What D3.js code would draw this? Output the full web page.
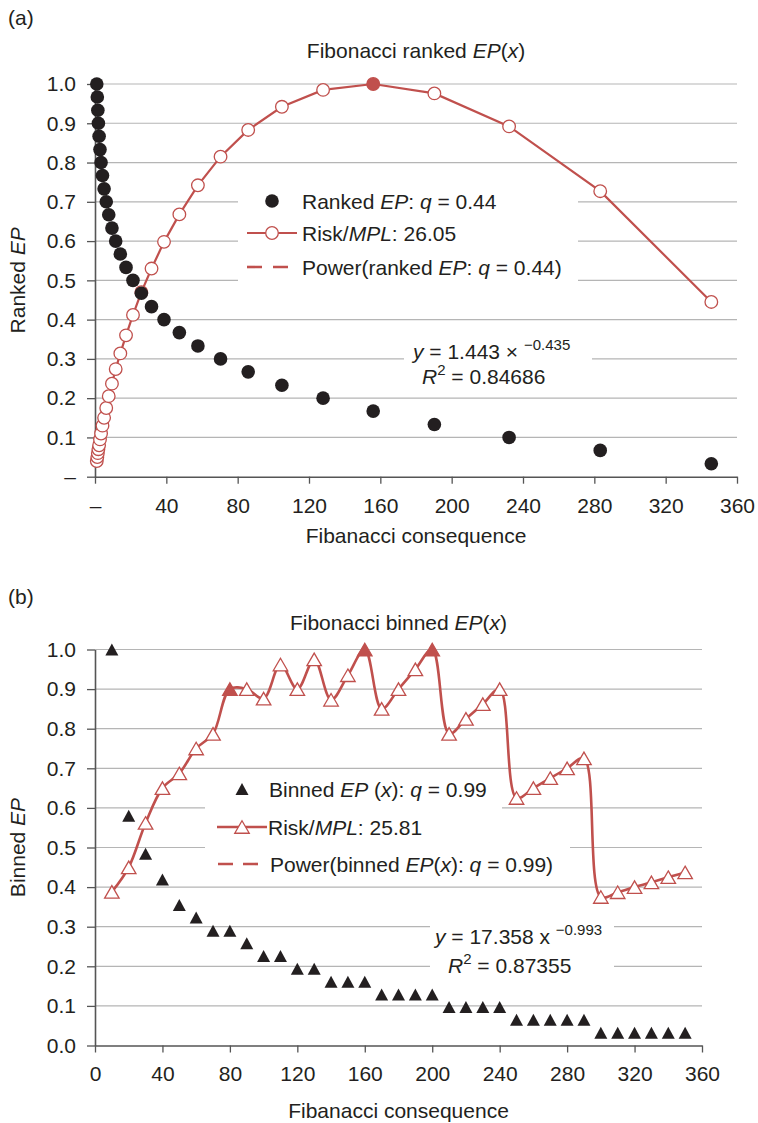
<!DOCTYPE html>
<html>
<head>
<meta charset="utf-8">
<script src="https://cdn.jsdelivr.net/npm/d3@7"></script>
<style>
body { margin: 0; background: #fff; }
svg { font-family: "Liberation Sans", Arial, Helvetica, sans-serif; }
</style>
</head>
<body>
<svg id="chart" width="758" height="1123"></svg>
<script>
// ---- panel (a): ranked EP ----
var rankedX = [1.0, 1.3, 1.6, 1.9, 2.3, 2.8, 3.4, 4.2, 5.1, 6.3, 7.7, 9.5, 11.6, 14.2, 17.4,
               21.3, 26.0, 31.7, 38.7, 47.3, 57.7, 70.4, 85.9, 104.8, 127.9, 156.0, 190.3, 232.2, 283.3, 345.6];
var rankedEP = [1.0, 0.967, 0.933, 0.9, 0.867, 0.833, 0.8, 0.767, 0.733, 0.7, 0.667, 0.633, 0.6, 0.567, 0.533,
                0.5, 0.467, 0.433, 0.4, 0.367, 0.333, 0.3, 0.267, 0.233, 0.2, 0.167, 0.133, 0.1, 0.067, 0.033];
var rankedRisk = [0.04, 0.05, 0.06, 0.07, 0.08, 0.095, 0.11, 0.13, 0.15, 0.175, 0.205, 0.237, 0.274, 0.314, 0.36,
                  0.412, 0.47, 0.53, 0.598, 0.668, 0.742, 0.815, 0.883, 0.942, 0.985, 1.0, 0.976, 0.892, 0.727, 0.445];
var rankedFilled = [156.0];

// ---- panel (b): binned EP ----
var binnedX = [10, 20, 30, 40, 50, 60, 70, 80, 90, 100, 110, 120, 130, 140, 150, 160, 170, 180,
               190, 200, 210, 220, 230, 240, 250, 260, 270, 280, 290, 300, 310, 320, 330, 340, 350];
var binnedEP = [1.0, 0.58, 0.484, 0.419, 0.355, 0.323, 0.29, 0.29, 0.258, 0.226, 0.226, 0.194, 0.194, 0.161, 0.161,
                0.161, 0.129, 0.129, 0.129, 0.129, 0.097, 0.097, 0.097, 0.097, 0.065, 0.065, 0.065, 0.065, 0.065,
                0.032, 0.032, 0.032, 0.032, 0.032, 0.032];
var binnedRisk = [0.388, 0.45, 0.562, 0.65, 0.687, 0.75, 0.787, 0.9, 0.9, 0.876, 0.962, 0.9, 0.975, 0.873, 0.935,
                  1.0, 0.85, 0.9, 0.95, 1.0, 0.787, 0.825, 0.862, 0.9, 0.625, 0.65, 0.675, 0.7, 0.725,
                  0.375, 0.387, 0.4, 0.412, 0.425, 0.437];
var binnedFilled = [80, 160, 200];

var xTicks = [0, 40, 80, 120, 160, 200, 240, 280, 320, 360];
var yTicks = [0, 0.1, 0.2, 0.3, 0.4, 0.5, 0.6, 0.7, 0.8, 0.9, 1.0];

var svg = d3.select("#chart");
var red = "#c0504d";
var ink = "#231f20";
var axisCol = "#555";
var gridCol = "#b5b5b5";

// text with italic / superscript pieces
function addText(parent, x, y, parts, anchor) {
  var t = parent.append("text").attr("x", x).attr("y", y)
    .attr("font-size", 21).attr("fill", ink);
  if (anchor) t.attr("text-anchor", anchor);
  var lift = 0;
  parts.forEach(function(p) {
    var s = t.append("tspan").text(p[0]);
    if (p[1] === "i") s.attr("font-style", "italic");
    if (p[1] === "sup") {
      s.attr("font-size", 15).attr("dy", -9);
      lift = 9;
    } else if (lift) {
      s.attr("dy", lift);
      lift = 0;
    }
  });
  return t;
}

function triangle(w, h) {
  return "M0," + (-h / 2) + "L" + (w / 2) + "," + (h / 2) + "L" + (-w / 2) + "," + (h / 2) + "Z";
}

function frame(o) {
  var g = svg.append("g");
  var x = d3.scaleLinear().domain([0, 360]).range([95, o.right]);
  var y = d3.scaleLinear().domain([0, 1]).range([o.bottom, o.top]);

  g.selectAll("line.grid").data(yTicks.slice(1)).enter().append("line")
    .attr("class", "grid")
    .attr("x1", x(0)).attr("x2", x(360))
    .attr("y1", function(d) { return y(d); })
    .attr("y2", function(d) { return y(d); })
    .attr("stroke", gridCol).attr("stroke-width", 1.2);

  var yAxis = d3.axisLeft(y).tickValues(yTicks).tickSize(8).tickSizeOuter(0).tickPadding(11)
    .tickFormat(function(d) { return d === 0 ? o.zeroY : d3.format(".1f")(d); });
  var xAxis = d3.axisBottom(x).tickValues(xTicks).tickSize(7).tickSizeOuter(0).tickPadding(14)
    .tickFormat(function(d) { return d === 0 ? o.zeroX : d; });

  var ga = g.append("g").attr("transform", "translate(" + x(0) + ",0)").call(yAxis);
  var gb = g.append("g").attr("transform", "translate(0," + y(0) + ")").call(xAxis);
  [ga, gb].forEach(function(a) {
    a.select(".domain").attr("stroke", axisCol).attr("stroke-width", 1.6);
    a.selectAll(".tick line").attr("stroke", axisCol).attr("stroke-width", 1.3);
    a.selectAll(".tick text").attr("font-size", 21).attr("fill", ink)
      .attr("font-family", "Liberation Sans, Arial, sans-serif");
  });

  addText(svg, 8, o.tagY, [[o.tag]]);
  addText(svg, (x(0) + x(360)) / 2, o.titleY, o.title, "middle");
  addText(svg, (x(0) + x(360)) / 2, o.xTitleY, [["Fibanacci consequence"]], "middle");
  addText(svg, 0, 0, o.yTitle, "middle")
    .attr("transform", "translate(25," + ((y(0) + y(1)) / 2) + ") rotate(-90)");

  return { g: g, x: x, y: y };
}

// ================= panel (a) =================
var A = frame({
  tag: "(a)", tagY: 25, titleY: 58, xTitleY: 543,
  title: [["Fibonacci ranked "], ["EP", "i"], ["("], ["x", "i"], [")"]],
  yTitle: [["Ranked "], ["EP", "i"]],
  top: 84, bottom: 476.7, right: 737, zeroX: "\u2013", zeroY: "\u2013"
});

// legend box + equation box (white, hide gridlines)
A.g.append("rect").attr("x", 238).attr("y", 184).attr("width", 340).attr("height", 106).attr("fill", "#fff");
A.g.append("rect").attr("x", 404).attr("y", 337).attr("width", 188).attr("height", 52).attr("fill", "#fff");

var aData = rankedX.map(function(d, i) { return { x: d, ep: rankedEP[i], risk: rankedRisk[i] }; });

var lineA = d3.line()
  .x(function(d) { return A.x(d.x); })
  .y(function(d) { return A.y(d.risk); });
A.g.append("path").datum(aData).attr("d", lineA)
  .attr("fill", "none").attr("stroke", red).attr("stroke-width", 2.2);

A.g.selectAll("circle.risk").data(aData).enter().append("circle")
  .attr("class", "risk")
  .attr("cx", function(d) { return A.x(d.x); })
  .attr("cy", function(d) { return A.y(d.risk); })
  .attr("r", 6.3)
  .attr("fill", function(d) { return rankedFilled.indexOf(d.x) >= 0 ? red : "#fff"; })
  .attr("stroke", red).attr("stroke-width", 1.3);

A.g.selectAll("circle.ep").data(aData).enter().append("circle")
  .attr("class", "ep")
  .attr("cx", function(d) { return A.x(d.x); })
  .attr("cy", function(d) { return A.y(d.ep); })
  .attr("r", 6.8).attr("fill", ink);

// legend (a)
A.g.append("circle").attr("cx", 272).attr("cy", 201).attr("r", 6.8).attr("fill", ink);
addText(A.g, 302, 208.5, [["Ranked "], ["EP", "i"], [": "], ["q", "i"], [" = 0.44"]]);
A.g.append("line").attr("x1", 247).attr("x2", 297).attr("y1", 233).attr("y2", 233)
  .attr("stroke", red).attr("stroke-width", 2.2);
A.g.append("circle").attr("cx", 272).attr("cy", 233).attr("r", 6.3)
  .attr("fill", "#fff").attr("stroke", red).attr("stroke-width", 1.3);
addText(A.g, 302, 240.5, [["Risk/"], ["MPL", "i"], [": 26.05"]]);
A.g.append("line").attr("x1", 247).attr("x2", 290).attr("y1", 267).attr("y2", 267)
  .attr("stroke", red).attr("stroke-width", 2.6).attr("stroke-dasharray", "15,11");
addText(A.g, 302, 274.5, [["Power(ranked "], ["EP", "i"], [": "], ["q", "i"], [" = 0.44)"]]);

// equation (a)
addText(A.g, 413, 359, [["y", "i"], [" = 1.443 \u00d7 "], ["\u22120.435", "sup"]]);
addText(A.g, 422, 384, [["R", "i"], ["2", "sup"], [" = 0.84686"]]);

// ================= panel (b) =================
var B = frame({
  tag: "(b)", tagY: 604, titleY: 630, xTitleY: 1118,
  title: [["Fibonacci binned "], ["EP", "i"], ["("], ["x", "i"], [")"]],
  yTitle: [["Binned "], ["EP", "i"]],
  top: 649.5, bottom: 1045.5, right: 702, zeroX: "0", zeroY: "0.0"
});

// per-row legend backgrounds + equation box
B.g.append("rect").attr("x", 205).attr("y", 771).attr("width", 297).attr("height", 39).attr("fill", "#fff");
B.g.append("rect").attr("x", 205).attr("y", 809).attr("width", 225).attr("height", 38).attr("fill", "#fff");
B.g.append("rect").attr("x", 205).attr("y", 846).attr("width", 365).attr("height", 38).attr("fill", "#fff");
B.g.append("rect").attr("x", 430).attr("y", 914).attr("width", 184).attr("height", 64).attr("fill", "#fff");

var bData = binnedX.map(function(d, i) { return { x: d, ep: binnedEP[i], risk: binnedRisk[i] }; });

B.g.selectAll("path.ep").data(bData).enter().append("path")
  .attr("class", "ep")
  .attr("d", triangle(13, 12))
  .attr("transform", function(d) { return "translate(" + B.x(d.x) + "," + B.y(d.ep) + ")"; })
  .attr("fill", ink);

var lineB = d3.line().curve(d3.curveCatmullRom)
  .x(function(d) { return B.x(d.x); })
  .y(function(d) { return B.y(d.risk); });
B.g.append("path").datum(bData).attr("d", lineB)
  .attr("fill", "none").attr("stroke", red).attr("stroke-width", 2.6);

B.g.selectAll("path.risk").data(bData).enter().append("path")
  .attr("class", "risk")
  .attr("d", triangle(14.5, 12.5))
  .attr("transform", function(d) { return "translate(" + B.x(d.x) + "," + B.y(d.risk) + ")"; })
  .attr("fill", function(d) { return binnedFilled.indexOf(d.x) >= 0 ? red : "#fff"; })
  .attr("stroke", red).attr("stroke-width", 1.3);

// legend (b)
B.g.append("path").attr("d", triangle(13, 12)).attr("transform", "translate(242,789)").attr("fill", ink);
addText(B.g, 269, 796.5, [["Binned "], ["EP", "i"], [" ("], ["x", "i"], ["): "], ["q", "i"], [" = 0.99"]]);
B.g.append("line").attr("x1", 217).attr("x2", 267).attr("y1", 827).attr("y2", 827)
  .attr("stroke", red).attr("stroke-width", 2.6);
B.g.append("path").attr("d", triangle(14.5, 12.5)).attr("transform", "translate(242,827)")
  .attr("fill", "#fff").attr("stroke", red).attr("stroke-width", 1.3);
addText(B.g, 268, 834.5, [["Risk/"], ["MPL", "i"], [": 25.81"]]);
B.g.append("line").attr("x1", 218).attr("x2", 258).attr("y1", 864).attr("y2", 864)
  .attr("stroke", red).attr("stroke-width", 2.6).attr("stroke-dasharray", "15,10");
addText(B.g, 270, 871.5, [["Power(binned "], ["EP", "i"], ["("], ["x", "i"], ["): "], ["q", "i"], [" = 0.99)"]]);

// equation (b)
addText(B.g, 435, 944, [["y", "i"], [" = 17.358 x "], ["\u22120.993", "sup"]]);
addText(B.g, 448, 973, [["R", "i"], ["2", "sup"], [" = 0.87355"]]);
</script>
</body>
</html>
